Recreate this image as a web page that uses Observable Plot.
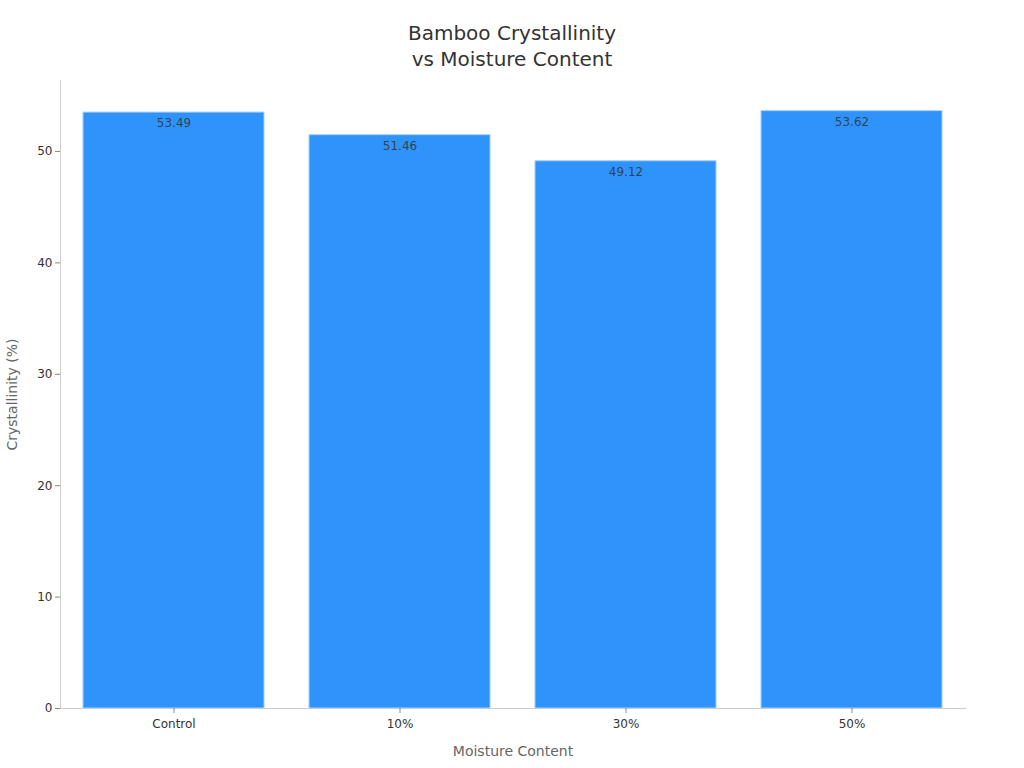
<!DOCTYPE html>
<html><head><meta charset="utf-8">
<script src="https://cdn.jsdelivr.net/npm/d3@7"></script>
<script src="https://cdn.jsdelivr.net/npm/@observablehq/plot@0.6"></script>
<style>
body{margin:0;background:#fff;font-family:"DejaVu Sans",sans-serif;}
#wrap{position:relative;width:1024px;height:768px;}
#title{position:absolute;left:0;top:20px;width:1024px;text-align:center;font-size:20px;line-height:26px;color:#333;}
#chart{position:absolute;left:0;top:70px;}
</style></head>
<body><div id="wrap"><div id="title">Bamboo Crystallinity<br>vs Moisture Content</div><div id="chart"></div></div>
<script>
const categories = ["Control", "10%", "30%", "50%"];
const crystallinity = [53.49, 51.46, 49.12, 53.62];
const yTicks = [0, 10, 20, 30, 40, 50];
const xTitle = "Moisture Content";
const yTitle = "Crystallinity (%)";
const data = categories.map((c, i) => ({c, v: crystallinity[i]}));

const chart = Plot.plot({
  width: 1024, height: 698,
  marginTop: 10, marginBottom: 60, marginLeft: 60, marginRight: 59,
  style: {fontFamily: "DejaVu Sans, sans-serif", fontSize: "12px", color: "#333", background: "#fff"},
  x: {domain: categories, paddingInner: 0.2, paddingOuter: 0.1},
  y: {domain: [0, 56.37]},
  marks: [
    Plot.barY(data, {x: "c", y: "v", fill: "#2E93FA", stroke: "#9fd0ff", strokeWidth: 1}),
    Plot.text(data, {x: "c", y: "v", text: d => d.v.toFixed(2), dy: 11, fill: "#333", fontSize: 12, fillOpacity: 0.85}),
    Plot.frame({anchor: "left", stroke: "#ccc"}),
    Plot.frame({anchor: "bottom", stroke: "#ccc"}),
    Plot.axisY({ticks: yTicks, tickSize: 5, tickPadding: 3, stroke: "#888", label: null, fontSize: 12}),
    Plot.axisX({tickSize: 5, tickPadding: 6, stroke: "#888", label: null, fontSize: 12}),
    Plot.text([xTitle], {frameAnchor: "bottom", text: d => d, lineAnchor: "middle", dy: 43, fill: "#666", fontSize: 14}),
    Plot.text([yTitle], {frameAnchor: "left", text: d => d, textAnchor: "middle", lineAnchor: "middle", rotate: -90, dx: -48, fill: "#666", fontSize: 14})
  ]
});
document.getElementById("chart").appendChild(chart);
</script></body></html>
